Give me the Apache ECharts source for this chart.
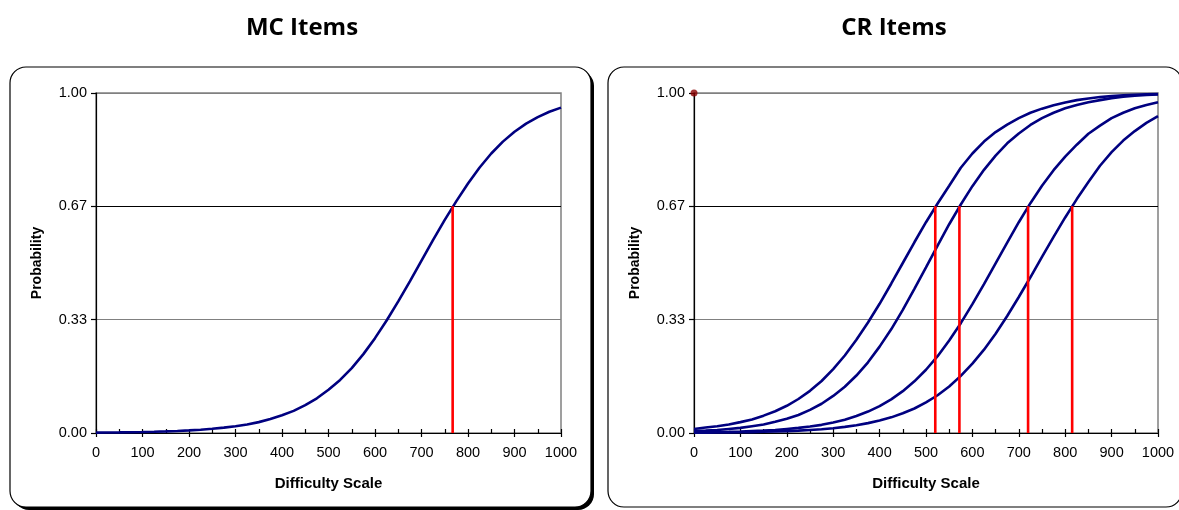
<!DOCTYPE html>
<html>
<head>
<meta charset="utf-8">
<script src="https://cdn.jsdelivr.net/npm/echarts@6/dist/echarts.min.js"></script>
<style>
  html, body { margin: 0; padding: 0; background: #ffffff; }
  #chart { width: 1179px; height: 510px; }
</style>
</head>
<body>
<div id="chart"></div>
<script>
// Difficulty scale points where the item curves are sampled
const difficulty = [0, 25, 50, 75, 100, 125, 150, 175, 200, 225, 250, 275, 300, 325, 350, 375, 400,
  425, 450, 475, 500, 525, 550, 575, 600, 625, 650, 675, 700, 725, 750, 775, 800, 825, 850, 875,
  900, 925, 950, 975, 1000];

// MC item: probability of a correct response
const mcProb = [0.001, 0.0014, 0.0018, 0.0023, 0.0029, 0.0037, 0.0047, 0.006, 0.0076, 0.0097, 0.0124,
  0.0157, 0.020, 0.025, 0.032, 0.041, 0.052, 0.065, 0.082, 0.102, 0.127, 0.156, 0.191, 0.232, 0.279,
  0.331, 0.387, 0.446, 0.507, 0.568, 0.627, 0.682, 0.734, 0.781, 0.822, 0.857, 0.886, 0.910, 0.929,
  0.945, 0.957];

// CR item: cumulative score-category curves
const crProb1 = [0.012, 0.016, 0.020, 0.025, 0.032, 0.040, 0.051, 0.064, 0.080, 0.100, 0.124, 0.153,
  0.188, 0.228, 0.274, 0.325, 0.380, 0.439, 0.500, 0.561, 0.620, 0.675, 0.727, 0.780, 0.822, 0.857,
  0.885, 0.907, 0.926, 0.942, 0.954, 0.964, 0.972, 0.979, 0.984, 0.988, 0.991, 0.993, 0.995, 0.996,
  0.997];
const crProb2 = [0.006, 0.007, 0.009, 0.012, 0.015, 0.020, 0.025, 0.033, 0.042, 0.053, 0.068, 0.086,
  0.109, 0.136, 0.169, 0.208, 0.254, 0.305, 0.362, 0.424, 0.487, 0.551, 0.614, 0.672, 0.726, 0.774,
  0.816, 0.852, 0.881, 0.906, 0.926, 0.942, 0.955, 0.965, 0.973, 0.979, 0.985, 0.989, 0.992, 0.994,
  0.996];
const crProb3 = [0.002, 0.002, 0.003, 0.0035, 0.0045, 0.006, 0.007, 0.009, 0.012, 0.015, 0.019, 0.024,
  0.031, 0.039, 0.050, 0.063, 0.079, 0.099, 0.123, 0.152, 0.186, 0.226, 0.272, 0.323, 0.379, 0.438,
  0.499, 0.560, 0.620, 0.676, 0.727, 0.773, 0.813, 0.848, 0.880, 0.904, 0.926, 0.942, 0.955, 0.965,
  0.973];
const crProb4 = [0.001, 0.001, 0.0013, 0.0017, 0.002, 0.0027, 0.0035, 0.0044, 0.0056, 0.007, 0.009,
  0.011, 0.014, 0.018, 0.023, 0.029, 0.037, 0.046, 0.058, 0.072, 0.090, 0.111, 0.137, 0.168, 0.204,
  0.245, 0.292, 0.344, 0.400, 0.458, 0.518, 0.577, 0.634, 0.688, 0.738, 0.786, 0.826, 0.860, 0.888,
  0.912, 0.932];

// Response-probability cut (RP67) and the scale locations where each curve reaches it
const cutProb = 0.667;
const mcCuts = [767];
const crCuts = [520, 572, 720, 815];

// Marker placed at the top-left corner of the CR plot
const crCornerPoint = [[0, 1]];

const panelTitles = ['MC Items', 'CR Items'];
const xAxisTitle = 'Difficulty Scale';
const yAxisTitle = 'Probability';

const NAVY = '#000080';
const RED = '#ff0000';
const FONT = '"Liberation Sans", Arial, sans-serif';

const pairs = (vals) => difficulty.map((x, i) => [x, vals[i]]);

function curveSeries(vals, xi, yi) {
  return {
    type: 'line', xAxisIndex: xi, yAxisIndex: yi, data: pairs(vals),
    showSymbol: false, symbol: 'none', smooth: false, z: 3,
    lineStyle: { color: NAVY, width: 2.6 }
  };
}
function cutSeries(x, xi, yi) {
  return {
    type: 'line', xAxisIndex: xi, yAxisIndex: yi, data: [[x, 0], [x, cutProb]],
    showSymbol: false, symbol: 'none', z: 4,
    lineStyle: { color: RED, width: 2.6 }
  };
}

const grids = [
  { left: 96, top: 93, width: 465, height: 340 },
  { left: 694, top: 93, width: 464, height: 340 }
];

const xAxes = [];
grids.forEach((g, gi) => {
  // labelled axis with ticks below the line
  xAxes.push({
    type: 'value', gridIndex: gi, min: 0, max: 1000, interval: 100, position: 'bottom',
    name: xAxisTitle, nameLocation: 'middle', nameGap: 43,
    nameTextStyle: { fontFamily: FONT, fontWeight: 'bold', fontSize: 15, color: '#000' },
    axisLine: { show: true, onZero: false, lineStyle: { color: '#000', width: 1.2 } },
    axisTick: { show: true, length: 4, lineStyle: { color: '#000', width: 1.2 } },
    axisLabel: { margin: 12, fontFamily: FONT, fontSize: 14.5, color: '#000',
      formatter: (v) => String(v) },
    splitLine: { show: false }
  });
  // companion axis drawing the inside major/minor ticks
  xAxes.push({
    type: 'value', gridIndex: gi, min: 0, max: 1000, interval: 100, position: 'bottom',
    axisLine: { show: false, onZero: false },
    axisTick: { show: true, inside: true, length: 4, lineStyle: { color: '#000', width: 1.2 } },
    minorTick: { show: true, splitNumber: 2, length: 4, lineStyle: { color: '#000', width: 1.2 } },
    axisLabel: { show: false },
    splitLine: { show: false }, minorSplitLine: { show: false }
  });
});

const yAxes = grids.map((g, gi) => ({
  type: 'value', gridIndex: gi, min: 0, max: 1, interval: 1 / 3,
  name: yAxisTitle, nameLocation: 'middle', nameRotate: 90, nameGap: 52,
  nameTextStyle: { fontFamily: FONT, fontWeight: 'bold', fontSize: 14, color: '#000' },
  axisLine: { show: true, lineStyle: { color: '#000', width: 1.2 } },
  axisTick: { show: true, length: 5, lineStyle: { color: '#000', width: 1.2 } },
  axisLabel: {
    margin: 9, fontFamily: FONT, fontSize: 14.5, color: '#000',
    formatter: (v) => v.toFixed(2)
  },
  splitLine: { show: true, lineStyle: { color: ['#808080', '#808080', '#000000', '#808080'], width: 1 } }
}));

const series = [
  curveSeries(mcProb, 0, 0),
  ...mcCuts.map((c) => cutSeries(c, 0, 0)),
  curveSeries(crProb1, 2, 1),
  curveSeries(crProb2, 2, 1),
  curveSeries(crProb3, 2, 1),
  curveSeries(crProb4, 2, 1),
  ...crCuts.map((c) => cutSeries(c, 2, 1)),
  {
    type: 'scatter', xAxisIndex: 2, yAxisIndex: 1, data: crCornerPoint, clip: false,
    symbol: 'circle', symbolSize: 7, z: 5, itemStyle: { color: '#8b0000' }
  }
];

const chart = echarts.init(document.getElementById('chart'), null, { renderer: 'canvas' });
chart.setOption({
  animation: false,
  backgroundColor: '#ffffff',
  graphic: [
    // drop shadow of the MC panel frame
    {
      type: 'rect', z: -101, silent: true,
      shape: { x: 13, y: 70, width: 581, height: 440, r: 16 },
      style: { fill: '#000000' }
    },
    {
      type: 'rect', z: -100, silent: true,
      shape: { x: 10, y: 67, width: 581, height: 440, r: 16 },
      style: { fill: '#ffffff', stroke: '#000', lineWidth: 1.2 }
    },
    {
      type: 'rect', z: -100, silent: true,
      shape: { x: 608, y: 67, width: 574, height: 440, r: 16 },
      style: { fill: '#ffffff', stroke: '#000', lineWidth: 1.2 }
    },
    {
      type: 'text', x: 302, y: 28, silent: true,
      style: { text: panelTitles[0], font: 'bold 24px "Open Sans", sans-serif', fill: '#000',
        textAlign: 'center', textVerticalAlign: 'middle' }
    },
    {
      type: 'text', x: 894, y: 28, silent: true,
      style: { text: panelTitles[1], font: 'bold 24px "Open Sans", sans-serif', fill: '#000',
        textAlign: 'center', textVerticalAlign: 'middle' }
    }
  ],
  grid: grids.map((g) => Object.assign({ show: true, borderColor: '#808080', borderWidth: 1.5,
    backgroundColor: 'transparent', containLabel: false }, g)),
  xAxis: xAxes,
  yAxis: yAxes,
  series: series
});
</script>
</body>
</html>
